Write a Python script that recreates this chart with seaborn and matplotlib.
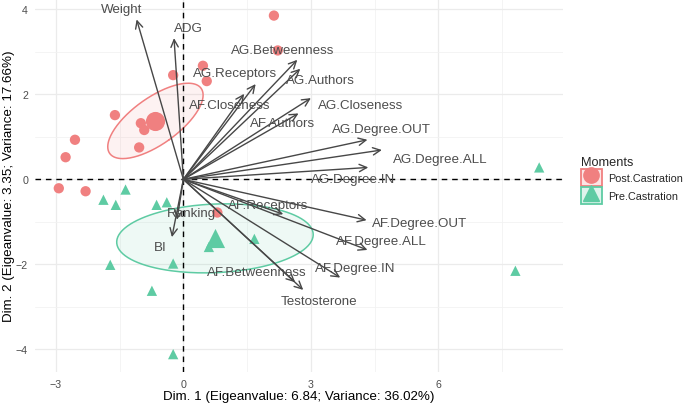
import numpy as np
import pandas as pd
import seaborn as sns
import matplotlib.pyplot as plt
from matplotlib.patches import Rectangle
from matplotlib.lines import Line2D
from matplotlib.legend_handler import HandlerTuple

# individuals (PCA scores)
post_x = [2.13, 2.22, 0.46, 0.55, -0.24, -1.61, -1.00, -0.92, -1.04, -2.55, -2.77, -2.93, -2.30, 0.80]
post_y = [3.85, 3.03, 2.67, 2.31, 2.45, 1.51, 1.32, 1.16, 0.75, 0.93, 0.52, -0.21, -0.28, -0.78]
pre_x = [-1.88, -1.59, -1.36, -0.63, -0.39, -1.72, -0.24, -0.74, -0.24, 0.60, 1.67, 8.37, 7.81]
pre_y = [-0.48, -0.60, -0.24, -0.60, -0.54, -2.01, -1.98, -2.62, -4.11, -1.59, -1.40, 0.28, -2.15]

# variables: arrow tips and label positions
var_names = ["Weight", "ADG", "AG.Betweenness", "AG.Authors", "AG.Receptors", "AF.Closeness",
             "AG.Closeness", "AF.Authors", "AG.Degree.OUT", "AG.Degree.ALL", "AG.Degree.IN",
             "AF.Receptors", "AF.Degree.OUT", "AF.Degree.ALL", "AF.Degree.IN", "AF.Betweenness",
             "Testosterone", "Ranking", "BI"]
var_x = [-1.10, -0.22, 2.68, 2.75, 1.70, 1.43, 3.00, 2.71, 4.33, 4.67, 4.35,
         2.35, 4.31, 4.33, 3.69, 2.63, 2.82, -0.15, -0.27]
var_y = [3.76, 3.32, 2.81, 2.60, 2.24, 2.01, 1.91, 1.55, 0.93, 0.69, 0.28,
         -0.82, -0.96, -1.66, -2.31, -2.42, -2.60, -0.95, -1.36]
lab_x = [-1.45, 0.12, 2.33, 3.22, 1.22, 1.10, 4.16, 2.34, 4.65, 6.04, 4.00,
         2.00, 5.56, 4.67, 4.04, 1.73, 3.18, 0.20, -0.55]
lab_y = [4.01, 3.55, 3.05, 2.34, 2.50, 1.75, 1.75, 1.32, 1.18, 0.48, 0.00,
         -0.60, -1.02, -1.46, -2.09, -2.19, -2.86, -0.80, -1.60]

groups = ["Post.Castration", "Pre.Castration"]
colors = {"Post.Castration": "#F08080", "Pre.Castration": "#5ECBA3"}
markers = {"Post.Castration": "o", "Pre.Castration": "^"}

df = pd.DataFrame({
    "Dim1": post_x + pre_x,
    "Dim2": post_y + pre_y,
    "Moments": ["Post.Castration"] * len(post_x) + ["Pre.Castration"] * len(pre_x),
})

sns.set_theme(style="whitegrid")
plt.rcParams['font.family'] = ['Liberation Sans', 'DejaVu Sans']

fig = plt.figure(figsize=(6.85, 4.06), dpi=100)
ax = fig.add_axes([35 / 685, 33 / 406, 528 / 685, 373 / 406])

# grid like theme_minimal
ax.set_xlim(-3.49, 8.93)
ax.set_ylim(-4.53, 4.24)
ax.set_xticks([-3, 0, 3, 6])
ax.set_yticks([-4, -2, 0, 2, 4])
ax.set_xticks([-1.5, 1.5, 4.5, 7.5], minor=True)
ax.set_yticks([-3, -1, 1, 3], minor=True)
ax.grid(which='major', color='#EBEBEB', linewidth=0.9)
ax.grid(which='minor', color='#F2F2F2', linewidth=0.6)
ax.set_facecolor('white')
for s in ax.spines.values():
    s.set_visible(False)
ax.tick_params(which='major', length=3, color='#333333', labelsize=7.7, labelcolor='#4D4D4D', pad=2)
ax.tick_params(which='minor', length=0)
ax.set_axisbelow(True)

# confidence ellipses around group means
for g in groups:
    sub = df[df["Moments"] == g]
    pts = sub[["Dim1", "Dim2"]].to_numpy()
    m = pts.mean(axis=0)
    cov = np.cov(pts.T)
    k = np.sqrt(5.991 / len(pts))
    vals, vecs = np.linalg.eigh(cov)
    t = np.linspace(0, 2 * np.pi, 200)
    circ = np.stack([np.cos(t), np.sin(t)])
    ell = (vecs @ np.diag(np.sqrt(vals) * k) @ circ).T + m
    ax.fill(ell[:, 0], ell[:, 1], color=colors[g], alpha=0.1, lw=0, zorder=1)
    ax.plot(ell[:, 0], ell[:, 1], color=colors[g], lw=1.1, zorder=2)

ax.axhline(0, color='black', lw=1.0, ls=(0, (4, 3.5)), zorder=2)
ax.axvline(0, color='black', lw=1.0, ls=(0, (4, 3.5)), zorder=2)

sns.scatterplot(data=df, x="Dim1", y="Dim2", hue="Moments", style="Moments",
                palette=colors, markers=markers, s=55, linewidth=0, legend=False,
                ax=ax, zorder=3)

# group centroids
cent = df.groupby("Moments")[["Dim1", "Dim2"]].mean()
for g in groups:
    ax.scatter(cent.loc[g, "Dim1"], cent.loc[g, "Dim2"], s=190, marker=markers[g],
               color=colors[g], linewidth=0, zorder=3)

# variable arrows
for name, vx, vy, lx, ly in zip(var_names, var_x, var_y, lab_x, lab_y):
    ax.annotate("", xy=(vx, vy), xytext=(0, 0),
                arrowprops=dict(arrowstyle='->,head_length=0.45,head_width=0.22',
                                color='#474747', lw=1.0, shrinkA=0, shrinkB=0),
                zorder=4)
    ax.text(lx, ly, name, ha='center', va='center', fontsize=9.6, color='#4D4D4D', zorder=5)

ax.set_xlabel("Dim. 1 (Eigeanvalue: 6.84; Variance: 36.02%)", fontsize=9.6, color='black', labelpad=1)
ax.set_ylabel("Dim. 2 (Eigeanvalue: 3.35; Variance: 17.66%)", fontsize=9.6, color='black', labelpad=1)

handles = []
for g in groups:
    box = Rectangle((0, 0), 1, 1, facecolor=colors[g], alpha=0.2, lw=0)
    edge = Rectangle((0, 0), 1, 1, facecolor='none', edgecolor=colors[g], lw=1.3)
    mk = Line2D([], [], marker=markers[g], color=colors[g], ls='', markersize=11)
    handles.append((box, edge, mk))
leg = fig.legend(handles, groups, handler_map={tuple: HandlerTuple(ndivide=1, pad=0)},
                 title="Moments", loc='upper left', bbox_to_anchor=(581 / 685, 1 - 157 / 406),
                 frameon=False, fontsize=7.8, title_fontsize=9.2, handlelength=1.9,
                 handleheight=2.1, handletextpad=0.6, labelspacing=0.05, borderaxespad=0,
                 borderpad=0)
leg._legend_box.align = "left"

fig.savefig("out.png", dpi=100)
